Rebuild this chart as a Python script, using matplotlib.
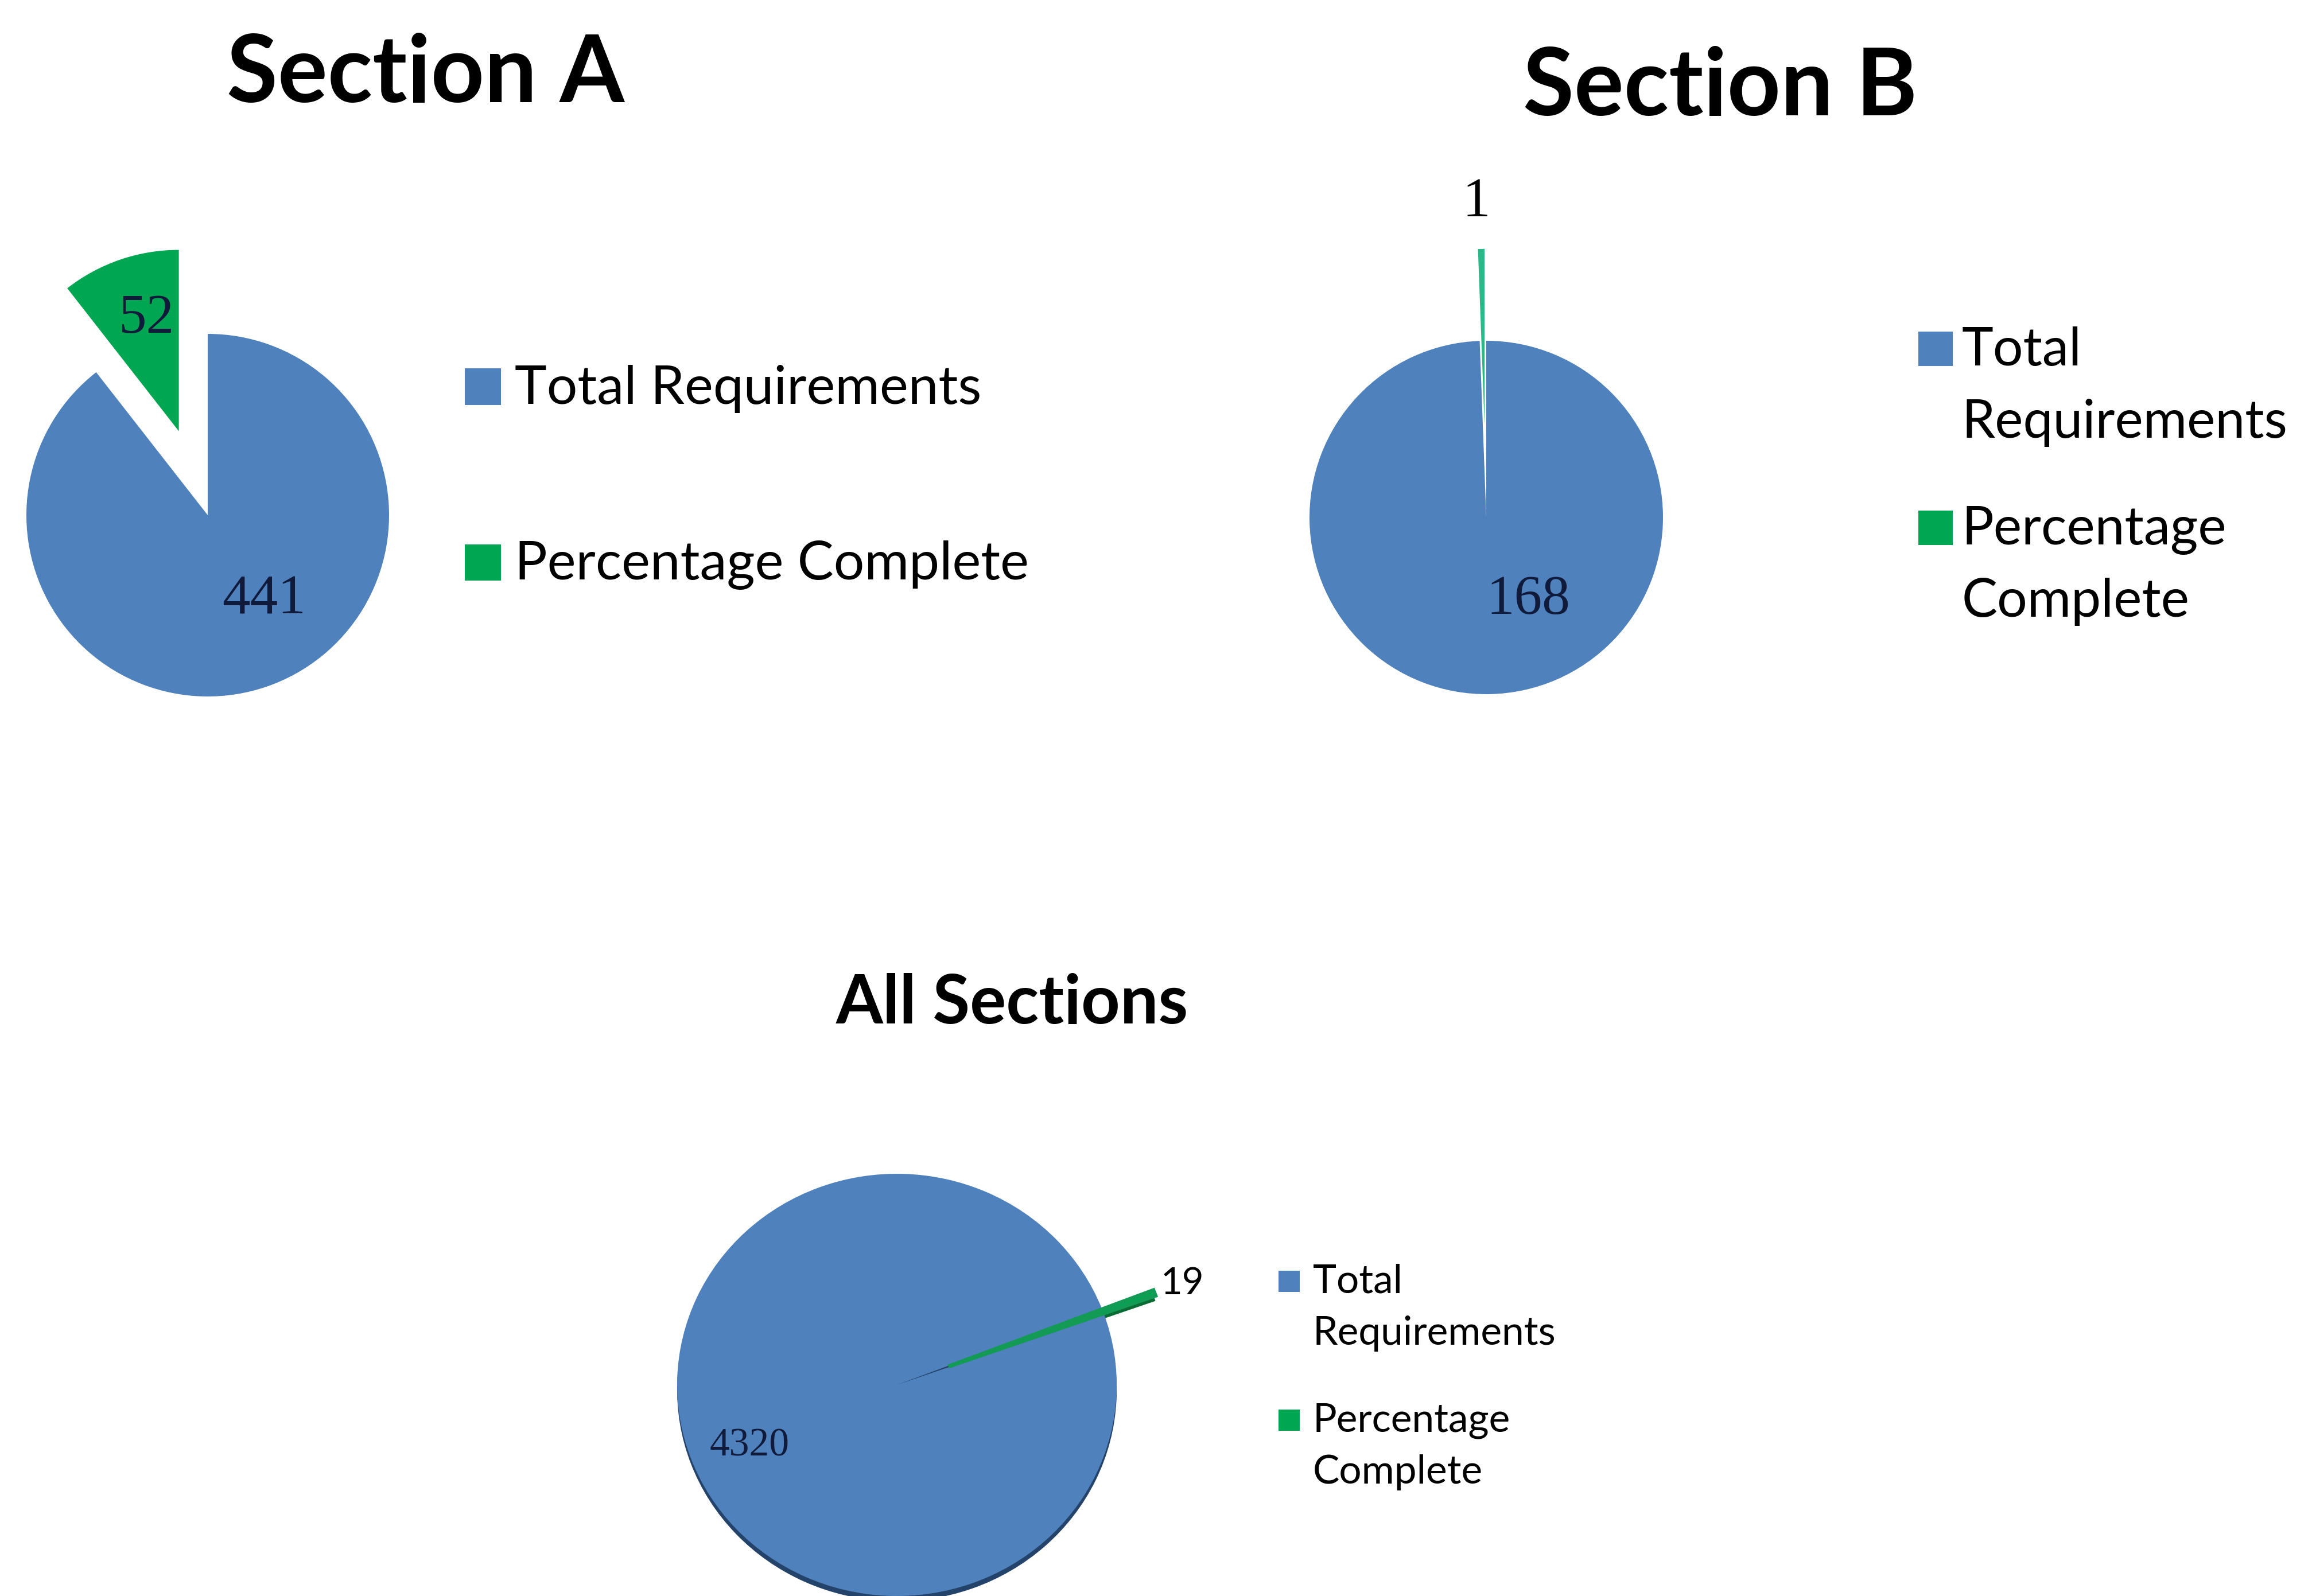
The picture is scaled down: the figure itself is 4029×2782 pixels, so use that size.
import matplotlib.pyplot as plt
from matplotlib.patches import Rectangle

# data
titles = ['Section A', 'Section B', 'All Sections']
total_requirements = [441, 168, 4320]
percentage_complete = [52, 1, 19]
series_names = ['Total Requirements', 'Percentage Complete']
series_names_wrapped = ['Total\nRequirements', 'Percentage\nComplete']

BLUE = '#4F81BD'
GREEN = '#00A651'
NAVY = '#101A3A'
TITLE_FONT = 'Lato'
LABEL_FONT = 'Liberation Serif'

W, H = 4030, 2782
fig = plt.figure(figsize=(W / 100, H / 100), dpi=100)
fig.patch.set_facecolor('white')


def px(x, y):
    # pixel position from top-left -> figure fraction
    return x / W, 1 - y / H


def cap_px(fs):
    # approx cap height of Lato in pixels at dpi 100
    return 0.7165 * fs * 100 / 72


def pie_axes(cx, cy, rx, ry, m=1.9):
    x0, y0 = px(cx - m * rx, cy + m * ry)
    ax = fig.add_axes([x0, y0, 2 * m * rx / W, 2 * m * ry / H])
    return ax, m


def finish(ax, m):
    ax.set_aspect('auto')
    ax.set_xlim(-m, m)
    ax.set_ylim(-m, m)
    ax.axis('off')


def title(text, cx, cy, fs):
    x, y = px(cx, cy + cap_px(fs) / 2)
    fig.text(x, y, text, ha='center', va='baseline', fontsize=fs,
             fontweight='bold', family=TITLE_FONT, color='black')


def legend(x_sq, sq, rows, text_x, labels, fs, line_step=0):
    for label, color, yc in zip(labels, [BLUE, GREEN], rows):
        fig.add_artist(Rectangle(px(x_sq, yc + sq / 2), sq / W, sq / H,
                                 transform=fig.transFigure,
                                 facecolor=color, edgecolor='none'))
        # one text per line so the key lines up with the first line
        for i, line in enumerate(label.split('\n')):
            x, y = px(text_x, yc - 4 + i * line_step + cap_px(fs) / 2)
            fig.text(x, y, line, ha='left', va='baseline', fontsize=fs,
                     family=TITLE_FONT, color='black')


# ---- Section A
ax, m = pie_axes(362, 898, 316, 316)
ax.pie([total_requirements[0], percentage_complete[0]], colors=[BLUE, GREEN],
       startangle=90, counterclock=False, explode=[0, 0.49],
       wedgeprops=dict(linewidth=0))
finish(ax, m)
ax.text(0.31, -0.47, str(total_requirements[0]), ha='center', va='center',
        fontsize=70, family=LABEL_FONT, color=NAVY)
ax.text(-0.34, 1.08, str(percentage_complete[0]), ha='center', va='center',
        fontsize=70, family=LABEL_FONT, color=NAVY)
title(titles[0], 742, 120, 117)
legend(810, 63, [674, 980], 897, series_names, 68)

# ---- Section B
ax, m = pie_axes(2590, 902, 308, 308)
wedges, _ = ax.pie([total_requirements[1], percentage_complete[1]],
                   colors=[BLUE, GREEN], startangle=90, counterclock=False,
                   explode=[0, 0.52], wedgeprops=dict(linewidth=0))
wedges[1].set_facecolor('#2DB88A')
finish(ax, m)
ax.text(0.24, -0.47, str(total_requirements[1]), ha='center', va='center',
        fontsize=70, family=LABEL_FONT, color=NAVY)
ax.text(-0.055, 1.78, str(percentage_complete[1]), ha='center', va='center',
        fontsize=70, family=LABEL_FONT, color='black')
title(titles[1], 2998, 143, 117)
legend(3343, 60, [608, 920], 3419, series_names_wrapped, 67, line_step=126)

# ---- All sections (slightly tilted 3D look)
ax, m = pie_axes(1563, 2414, 383, 368)
ax.pie([total_requirements[2], percentage_complete[2]],
       colors=['#24436B', '#0B6B34'], startangle=19.6, counterclock=False,
       explode=[0, 0.25], center=(0, -0.025), wedgeprops=dict(linewidth=0))
wedges, _ = ax.pie([total_requirements[2], percentage_complete[2]],
                   colors=[BLUE, GREEN], startangle=19.6, counterclock=False,
                   explode=[0, 0.25], wedgeprops=dict(linewidth=0))
wedges[1].set_edgecolor('#139A55')
wedges[1].set_linewidth(5)
finish(ax, m)
ax.text(-0.67, -0.29, str(total_requirements[2]), ha='center', va='center',
        fontsize=50, family=LABEL_FONT, color=NAVY)
ax.text(1.30, 0.48, str(percentage_complete[2]), ha='center', va='center',
        fontsize=47, family=TITLE_FONT, color='black')
title(titles[2], 1764, 1742, 85)
legend(2228, 37, [2233, 2475], 2288, series_names_wrapped, 50, line_step=90)

fig.savefig('out.png', dpi=100, facecolor='white')
